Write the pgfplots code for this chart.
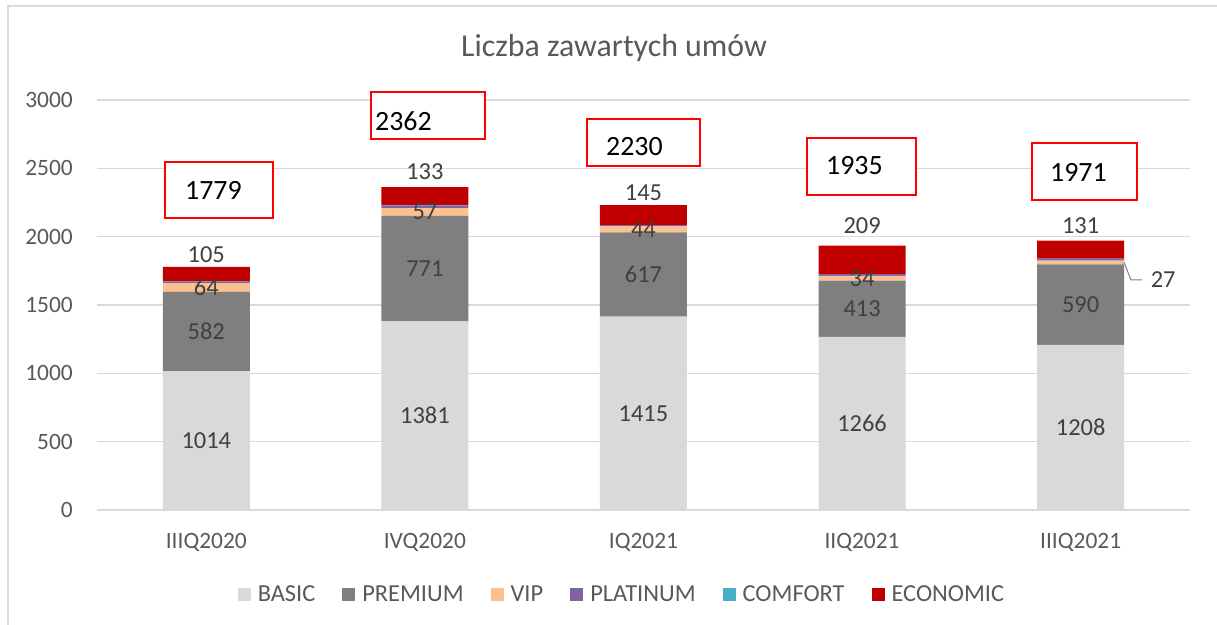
\documentclass[border=0pt]{standalone}
\usepackage{pgfplots}
\pgfplotsset{compat=1.18}
\usepackage{pgfplotstable}
\usepackage{fontspec}
\setmainfont{Carlito}
\definecolor{cBasic}{RGB}{217,217,217}
\definecolor{cPrem}{RGB}{127,127,127}
\definecolor{cVip}{RGB}{250,192,144}
\definecolor{cPlat}{RGB}{128,100,162}
\definecolor{cComf}{RGB}{75,172,198}
\definecolor{cEcon}{RGB}{192,0,0}
\definecolor{cGrid}{RGB}{217,217,217}
\definecolor{cTxt}{RGB}{89,89,89}
\definecolor{cLab}{RGB}{64,64,64}
% eoff: label offset above the bar top (in data units)
\pgfplotstableread{
x basic premium vip plat comf econ eoff
0 1014 582 64 12 2 105 88
1 1381 771 57 18 2 133 110
2 1415 617 44 8 1 145 95
3 1266 413 34 12 1 209 146
4 1208 590 27 14 1 131 110
}\datatable
\newcommand{\lfont}{\fontsize{23.5}{28}\selectfont}
\newcommand{\dfont}{\fontsize{24.5}{29}\selectfont}
\pgfplotsset{
  samegeom/.style={at={(97bp,115bp)}, anchor=south west,
    scale only axis, width=1093bp, height=410bp,
    xmin=-0.5, xmax=4.5, ymin=0, ymax=3000},
  lab/.style={draw=none, mark=none, nodes near coords, point meta=explicit,
    every node near coord/.append style={anchor=center, inner sep=0pt, font=\dfont, text=cLab}},
}
\begin{document}
\begin{tikzpicture}
\path[use as bounding box] (0bp,0bp) rectangle (1217bp,625bp);
\draw[cGrid, line width=1.2bp] (8bp,0bp) -- (8bp,619bp) -- (1217bp,619bp);
\begin{axis}[
  samegeom,
  ybar stacked, bar width=87bp,
  xtick={0,1,2,3,4},
  xticklabels={IIIQ2020,IVQ2020,IQ2021,IIQ2021,IIIQ2021},
  ytick={0,500,...,3000},
  ymajorgrids, grid style={cGrid, line width=1.2bp},
  axis lines*=left,
  y axis line style={draw=none},
  x axis line style={cGrid, line width=1.2bp},
  major tick length=0pt, tick style={draw=none},
  /pgf/number format/assume math mode=true,
  /pgf/number format/1000 sep={},
  tick label style={font=\lfont, text=cTxt},
  yticklabel style={inner sep=0pt, xshift=-24bp},
  xticklabel style={inner sep=0pt, yshift=-23.5bp},
  legend style={at={(0.4794,-0.2060)}, anchor=center, draw=none,
    legend columns=6, font=\dfont, text=cTxt,
    nodes={inner sep=0pt},
    /tikz/every odd column/.append style={column sep=7bp},
    /tikz/every even column/.append style={column sep=27bp}},
  every axis plot/.append style={draw=none,
    legend image code/.code={\fill[##1] (0bp,-6.5bp) rectangle (13bp,6.5bp);}},
]
\addplot[fill=cBasic] table[x=x,y=basic]{\datatable};
\addplot[fill=cPrem] table[x=x,y=premium]{\datatable};
\addplot[fill=cVip] table[x=x,y=vip]{\datatable};
\addplot[fill=cPlat] table[x=x,y=plat]{\datatable};
\addplot[fill=cComf] table[x=x,y=comf]{\datatable};
\addplot[fill=cEcon] table[x=x,y=econ]{\datatable};
\legend{BASIC,PREMIUM,VIP,PLATINUM,COMFORT,ECONOMIC}
\end{axis}
\begin{axis}[samegeom, hide axis, clip=false,
  /pgf/number format/assume math mode=true,
  /pgf/number format/1000 sep={}]
\addplot[lab] table[x=x, y expr=\thisrow{basic}/2, meta=basic]{\datatable};
\addplot[lab] table[x=x, y expr=\thisrow{basic}+\thisrow{premium}/2, meta=premium]{\datatable};
\addplot[lab, restrict x to domain=0:3.5] table[x=x, y expr=\thisrow{basic}+\thisrow{premium}+\thisrow{vip}/2, meta=vip]{\datatable};
\addplot[lab] table[x=x,
  y expr=\thisrow{basic}+\thisrow{premium}+\thisrow{vip}+\thisrow{plat}+\thisrow{comf}+\thisrow{econ}+\thisrow{eoff}, meta=econ]{\datatable};
\draw[gray, line width=1bp] (axis cs:4.199,1812) -- (axis cs:4.23,1683) -- (axis cs:4.28,1683);
\node[anchor=west, inner sep=0pt, font=\dfont, text=cLab] at (axis cs:4.32,1683) {27};
\end{axis}
\node[font=\fontsize{32}{38}\selectfont, text=cTxt] at (614bp,577bp) {Liczba zawartych umów};
\begin{scope}[red, line width=1.3bp]
\filldraw[fill=white] (165bp,463bp) rectangle (273bp,407bp);
\filldraw[fill=white] (371bp,533bp) rectangle (485bp,486bp);
\filldraw[fill=white] (587bp,506bp) rectangle (700bp,459bp);
\filldraw[fill=white] (807bp,487bp) rectangle (916bp,430bp);
\filldraw[fill=white] (1032bp,482bp) rectangle (1137bp,425bp);
\end{scope}
\begin{scope}[every node/.style={anchor=west, inner sep=0pt, font=\fontsize{28}{33}\selectfont, text=black}]
\node at (185bp,435bp) {1779};
\node at (375bp,504bp) {2362};
\node at (606bp,478bp) {2230};
\node at (826bp,459bp) {1935};
\node at (1050bp,453bp) {1971};
\end{scope}
\end{tikzpicture}
\end{document}
